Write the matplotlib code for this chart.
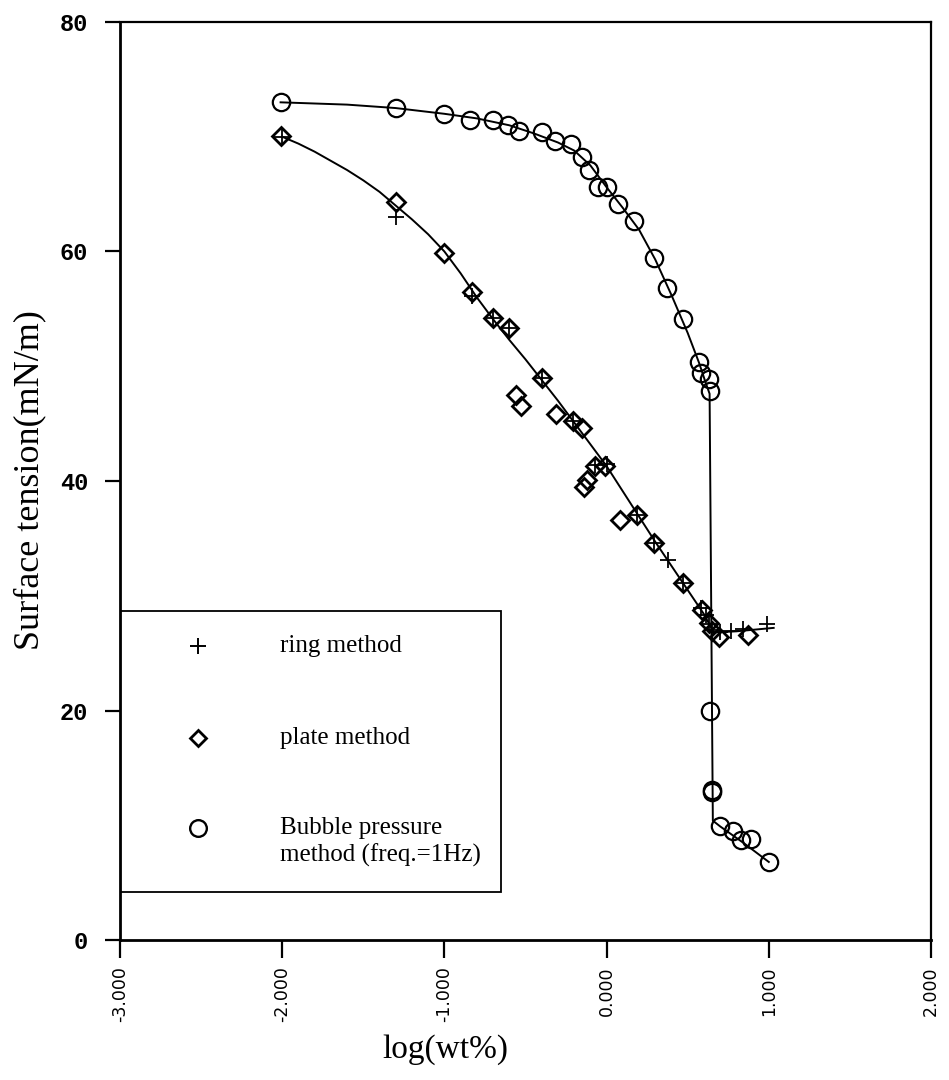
import matplotlib
matplotlib.use("Agg")
import matplotlib.pyplot as plt
from matplotlib.patches import Rectangle
from matplotlib.lines import Line2D
from matplotlib.ticker import FixedLocator, FormatStrFormatter

plt.rcParams['axes.unicode_minus'] = False

# ---------------- data ----------------
ring_x = [-2.00, -1.30, -0.83, -0.70, -0.60, -0.40, -0.21, -0.07, 0.00, 0.19, 0.29,
          0.38, 0.47, 0.58, 0.61, 0.63, 0.65, 0.70, 0.77, 0.84, 0.99]
ring_y = [70.0, 63.0, 56.1, 54.2, 53.3, 49.0, 45.2, 41.4, 41.5, 37.0, 34.6,
          33.1, 31.1, 28.9, 28.3, 27.5, 27.0, 26.8, 26.9, 27.1, 27.5]

plate_x = [-2.01, -1.30, -1.00, -0.83, -0.70, -0.60, -0.56, -0.53, -0.40, -0.31, -0.21,
           -0.15, -0.07, -0.01, -0.12, -0.14, 0.08, 0.19, 0.29, 0.47, 0.59, 0.63,
           0.65, 0.69, 0.87]
plate_y = [70.1, 64.3, 59.9, 56.5, 54.2, 53.3, 47.5, 46.5, 49.0, 45.8, 45.2,
           44.6, 41.3, 41.3, 40.1, 39.5, 36.6, 37.0, 34.6, 31.1, 28.8, 27.6,
           26.9, 26.4, 26.6]

bubble_x = [-2.01, -1.30, -1.00, -0.84, -0.70, -0.61, -0.54, -0.40, -0.32, -0.22, -0.15,
            -0.11, -0.05, 0.00, 0.07, 0.17, 0.29, 0.37, 0.47, 0.57, 0.58, 0.63, 0.64,
            0.64, 0.65, 0.65, 0.70, 0.78, 0.83, 0.89, 1.00]
bubble_y = [73.0, 72.5, 72.0, 71.5, 71.5, 71.0, 70.5, 70.4, 69.6, 69.4, 68.2,
            67.1, 65.6, 65.6, 64.1, 62.7, 59.4, 56.8, 54.1, 50.4, 49.4, 48.9, 47.8,
            20.0, 13.1, 12.9, 9.9, 9.5, 8.7, 8.8, 6.8]

# fitted curves drawn in the original
ring_curve_x = [-2.00, -1.90, -1.80, -1.70, -1.60, -1.50, -1.40, -1.30, -1.20, -1.10,
                -1.00, -0.90, -0.80, -0.70, -0.60, -0.50, -0.40, -0.30, -0.20, -0.10,
                0.00, 0.10, 0.20, 0.30, 0.40, 0.50, 0.60, 0.66, 0.80, 1.03]
ring_curve_y = [70.0, 69.4, 68.7, 67.9, 67.1, 66.2, 65.2, 64.0, 62.8, 61.5,
                60.0, 58.1, 56.0, 54.1, 52.3, 50.6, 48.8, 47.0, 45.1, 43.2,
                41.3, 39.1, 36.9, 34.7, 32.6, 30.5, 28.4, 26.8, 26.9, 27.2]

bubble_curve_x = [-2.01, -1.60, -1.30, -1.00, -0.80, -0.60, -0.45, -0.30, -0.20, -0.10,
                  0.00, 0.10, 0.20, 0.30, 0.40, 0.50, 0.57, 0.61, 0.635, 0.655,
                  0.70, 0.85, 1.00]
bubble_curve_y = [73.0, 72.8, 72.5, 72.0, 71.6, 71.0, 70.3, 69.5, 68.8, 67.5,
                  65.6, 63.8, 61.9, 59.3, 56.2, 52.9, 50.3, 48.6, 47.6, 10.4,
                  9.9, 8.4, 6.8]

x_ticks = [-3.0, -2.0, -1.0, 0.0, 1.0, 2.0]
y_ticks = [0, 20, 40, 60, 80]

legend_labels = ["ring method", "plate method", "Bubble pressure\nmethod (freq.=1Hz)"]

# ---------------- figure ----------------
W, H = 949, 1080
fig = plt.figure(figsize=(W / 100, H / 100), dpi=100)
L, R, T, B = 120, 931, 22, 940
ax = fig.add_axes([L / W, 1 - B / H, (R - L) / W, (B - T) / H])

ax.plot(bubble_curve_x, bubble_curve_y, color='black', lw=1.4, zorder=2)
ax.plot(ring_curve_x, ring_curve_y, color='black', lw=1.4, zorder=2)

ax.plot(bubble_x, bubble_y, linestyle='none', marker='o', ms=12.5, mfc='none',
        mec='black', mew=1.6, zorder=3)
ax.plot(plate_x, plate_y, linestyle='none', marker='D', ms=9, mfc='none',
        mec='black', mew=2.0, zorder=3)
ax.plot(ring_x, ring_y, linestyle='none', marker='+', ms=11, mec='black',
        mew=1.3, zorder=4)

ax.set_xlim(-3, 2)
ax.set_ylim(0, 80)
ax.xaxis.set_major_locator(FixedLocator(x_ticks))
ax.yaxis.set_major_locator(FixedLocator(y_ticks))
ax.xaxis.set_major_formatter(FormatStrFormatter('%.3f'))

for s in ['left', 'bottom']:
    ax.spines[s].set_linewidth(2.0)
for s in ['top', 'right']:
    ax.spines[s].set_linewidth(1.6)

ax.tick_params(axis='x', direction='out', length=13, width=1.6, pad=6,
               top=False, labelrotation=90)
ax.tick_params(axis='y', direction='out', length=11, width=1.6, pad=12, right=False)
for lab in ax.get_xticklabels():
    lab.set_fontfamily('DejaVu Sans')
    lab.set_fontsize(12.5)
for lab in ax.get_yticklabels():
    lab.set_fontfamily('Liberation Mono')
    lab.set_fontweight('bold')
    lab.set_fontsize(17)

ax.set_xlabel("log(wt%)", family='Liberation Serif', fontsize=24)
ax.xaxis.set_label_coords((445 - L) / (R - L), -(1050 - B) / (B - T), transform=ax.transAxes)
ax.xaxis.label.set_va('center')
ax.set_ylabel("Surface tension(mN/m)", family='Liberation Serif', fontsize=26)
ax.yaxis.set_label_coords(-(L - 30) / (R - L), (B - 480) / (B - T))
ax.yaxis.label.set_va('center')

# ---------------- legend box ----------------
def ax_x(px):
    return (px - L) / (R - L)

def ax_y(py):
    return (B - py) / (B - T)

box = Rectangle((ax_x(121), ax_y(892)), ax_x(501) - ax_x(121), ax_y(611) - ax_y(892),
                transform=ax.transAxes, fill=True, facecolor='white',
                edgecolor='black', lw=1.3, zorder=5)
ax.add_patch(box)

mx = ax_x(198)
tx = ax_x(280)
entry_y = [ax_y(646), ax_y(738), ax_y(828)]
text_y = [ax_y(646), ax_y(738), ax_y(842)]
styles = [dict(marker='+', ms=11, mew=1.4, mfc='none'),
          dict(marker='D', ms=8, mew=2.0, mfc='none'),
          dict(marker='o', ms=12, mew=1.7, mfc='none')]
for yy, st in zip(entry_y, styles):
    ax.add_line(Line2D([mx], [yy], transform=ax.transAxes, linestyle='none',
                       color='black', mec='black', zorder=6, **st))
for yy, lab in zip(text_y, legend_labels):
    ax.text(tx, yy, lab, transform=ax.transAxes, family='Liberation Serif',
            fontsize=18, va='center', ha='left', zorder=6, linespacing=1.2)

fig.savefig("out.png", dpi=100)
